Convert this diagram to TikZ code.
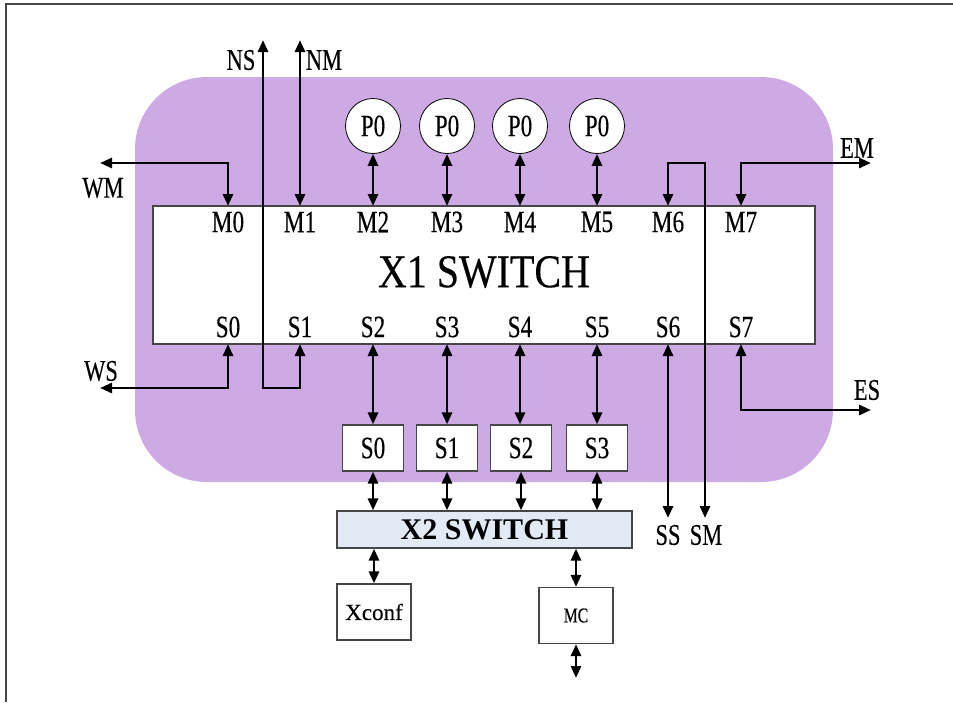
\documentclass[tikz,border=0pt]{standalone}
\usepackage{fontspec}
\setmainfont{Liberation Serif}
\newfontfamily\cn[FakeStretch=0.75,FakeBold=0.3]{Liberation Serif}
\newfontfamily\cnt[FakeStretch=0.85,FakeBold=0.3]{Liberation Serif}
\newfontfamily\cnw[FakeBold=0.3]{Liberation Serif}
\usetikzlibrary{arrows.meta}
\definecolor{bgpurple}{RGB}{205,170,228}
\definecolor{xtwo}{RGB}{226,234,246}
\definecolor{edgegray}{RGB}{70,70,70}
\tikzset{
  conn/.style={line width=2.8pt,{Triangle[length=12pt,width=10pt]}-{Triangle[length=12pt,width=10pt]}},
  lbl/.style={inner sep=0pt,font=\cn\fontsize{31}{31}\selectfont},
  dlbl/.style={inner sep=0pt,font=\cn\fontsize{30}{30}\selectfont},
  pcirc/.style={circle,draw=black,line width=0.8pt,fill=white,minimum size=55pt,inner sep=0pt,font=\cn\fontsize{31}{31}\selectfont},
  sbox/.style={draw=edgegray,line width=1.2pt,fill=white,minimum width=61pt,minimum height=46pt,inner sep=0pt,font=\cn\fontsize{31}{31}\selectfont},
  obox/.style={draw=edgegray,line width=1.2pt,fill=white,minimum width=74pt,minimum height=56pt,inner sep=0pt}
}
\begin{document}
\begin{tikzpicture}[x=1pt,y=-1pt]
\useasboundingbox (0,0) rectangle (953,702);
% frame
\draw[edgegray,line width=1.6pt] (953,4) -- (6,4) -- (6,702);
% background
\fill[bgpurple,rounded corners=72pt] (135,77) rectangle (833,482);
% X1 switch
\node[draw=edgegray,line width=1.2pt,fill=white,minimum width=662pt,minimum height=138pt,inner sep=0pt] (x1) at (484,275) {};
\node[inner sep=0pt,font=\cnt\fontsize{47}{47}\selectfont] (x1t) at (484,272) {X1 SWITCH};
% port coordinates and labels
\foreach \i/\x in {0/228,1/300,2/373,3/447,4/520,5/597,6/668,7/741}{
  \coordinate (m\i) at (\x,206);
  \coordinate (s\i) at (\x,344);
  \node[lbl] (ml\i) at (\x,222) {M\i};
  \node[lbl] (sl\i) at (\x,327) {S\i};
}
% P0 circles
\foreach \i/\x in {2/373,3/447,4/520,5/597}{
  \node[pcirc] (p\i) at (\x,126) {P0};
  \draw[conn] (p\i.south) -- (m\i);
}
% small S boxes
\node[sbox] (b0) at (373,448) {S0};
\node[sbox] (b1) at (447,448) {S1};
\node[sbox] (b2) at (521,448) {S2};
\node[sbox] (b3) at (597,448) {S3};
\draw[conn] (s2) -- (s2 |- b0.north);
\draw[conn] (s3) -- (s3 |- b1.north);
\draw[conn] (s4) -- (s4 |- b2.north);
\draw[conn] (s5) -- (s5 |- b3.north);
% X2 switch
\node[draw=edgegray,line width=1.2pt,fill=xtwo,minimum width=295pt,minimum height=37pt,inner sep=0pt,font=\bfseries\fontsize{30}{30}\selectfont] (x2) at (484.5,529.5) {X2 SWITCH};
\draw[conn] (b0.south) -- (b0.south |- x2.north);
\draw[conn] (b1.south) -- (b1.south |- x2.north);
\draw[conn] (b2.south) -- (b2.south |- x2.north);
\draw[conn] (b3.south) -- (b3.south |- x2.north);
% Xconf and MC
\node[obox,font=\cnw\fontsize{23}{23}\selectfont] (xc) at (374,612) {Xconf};
\node[obox,font=\cn\fontsize{21}{21}\selectfont] (mc) at (576,615.5) {MC};
\draw[conn] (xc.north |- x2.south) -- (xc.north);
\draw[conn] (mc.north |- x2.south) -- (mc.north);
\coordinate (mcout) at (576,678);
\draw[conn] (mc.south) -- (mcout);
% outer connections
\coordinate (wmend) at (100,163);
\coordinate (wsend) at (100,388);
\coordinate (nsend) at (263,40);
\coordinate (nmend) at (300,40);
\coordinate (nsturn) at (263,388);
\coordinate (smturn) at (705,163);
\coordinate (smend) at (705,518);
\coordinate (ssend) at (668,518);
\coordinate (emend) at (871,163);
\coordinate (esend) at (871,410);
\draw[conn] (m0) |- (wmend);
\draw[conn] (s0) |- (wsend);
\draw[conn] (m1) -- (nmend);
\draw[conn] (s1) |- (nsturn) -- (nsend);
\draw[conn] (m6) |- (smturn) -- (smend);
\draw[conn] (s6) -- (ssend);
\draw[conn] (m7) |- (emend);
\draw[conn] (s7) |- (esend);
% direction labels
\node[dlbl] (lwm) at (103,188) {WM};
\node[dlbl] (lws) at (101,371) {WS};
\node[dlbl] (lns) at (241,60) {NS};
\node[dlbl] (lnm) at (324,60) {NM};
\node[dlbl] (lem) at (857,148) {EM};
\node[dlbl] (les) at (867,390) {ES};
\node[dlbl] (lss) at (668,535) {SS};
\node[dlbl] (lsm) at (706,535) {SM};
\end{tikzpicture}
\end{document}
